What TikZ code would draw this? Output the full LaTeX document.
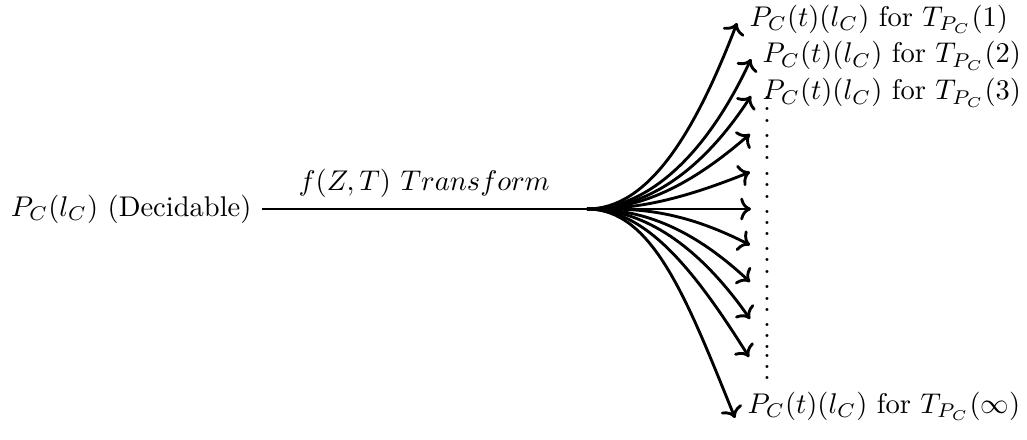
\documentclass[tikz,border=0pt]{standalone}
\usepackage{amsmath,amssymb}
\usetikzlibrary{arrows.meta,positioning}
\tikzset{
  link/.style={line width=1pt},
  fan/.style={link, ->, out looseness=0.65, in looseness=1.3},
  outlab/.style={anchor=base west},
}
\begin{document}
\begin{tikzpicture}[x=0.35088pt,y=0.35088pt]
\useasboundingbox (0,0) rectangle (1027,439);
\node[anchor=east] (src) at (261.5,230) {$P_C(l_C)$ (Decidable)};
\coordinate (hub) at (587,230);
\draw[link] (src.east) -- (hub) node[midway, above] (tf) {$f(Z,T)\ Transform$};

% fan of outputs
\foreach \n/\tx/\ty/\ang in {1/737/416/249, 2/751/380/245, 3/751/343/237,
  4/750/305/221, 5/750/267/202, 6/751/230/180, 7/750/194/153,
  8/750/157/137, 9/750/120/125, 10/749/82/122, 11/735/21/112}{
  \coordinate (tip\n) at (\tx,\ty);
  \draw[fan] (hub) to[out=0, in=\ang] (tip\n);
}
\node[outlab] (out1) at (739.5,412.3) {$P_C(t)(l_C)$ for $T_{P_C}(1)$};
\node[outlab] (out2) at (752.5,376) {$P_C(t)(l_C)$ for $T_{P_C}(2)$};
\node[outlab] (out3) at (752.5,339) {$P_C(t)(l_C)$ for $T_{P_C}(3)$};
\node[outlab] (outinf) at (737.5,26) {$P_C(t)(l_C)$ for $T_{P_C}(\infty)$};

% dots between the labels
\foreach \i/\by in {1/316.8, 2/279.2, 3/240.8, 4/203.2, 5/165.8, 6/127.5, 7/90.2, 8/59.2}
  \node[anchor=base, inner sep=0pt] (dots\i) at (767,\by) {$\vdots$};
\end{tikzpicture}
\end{document}
